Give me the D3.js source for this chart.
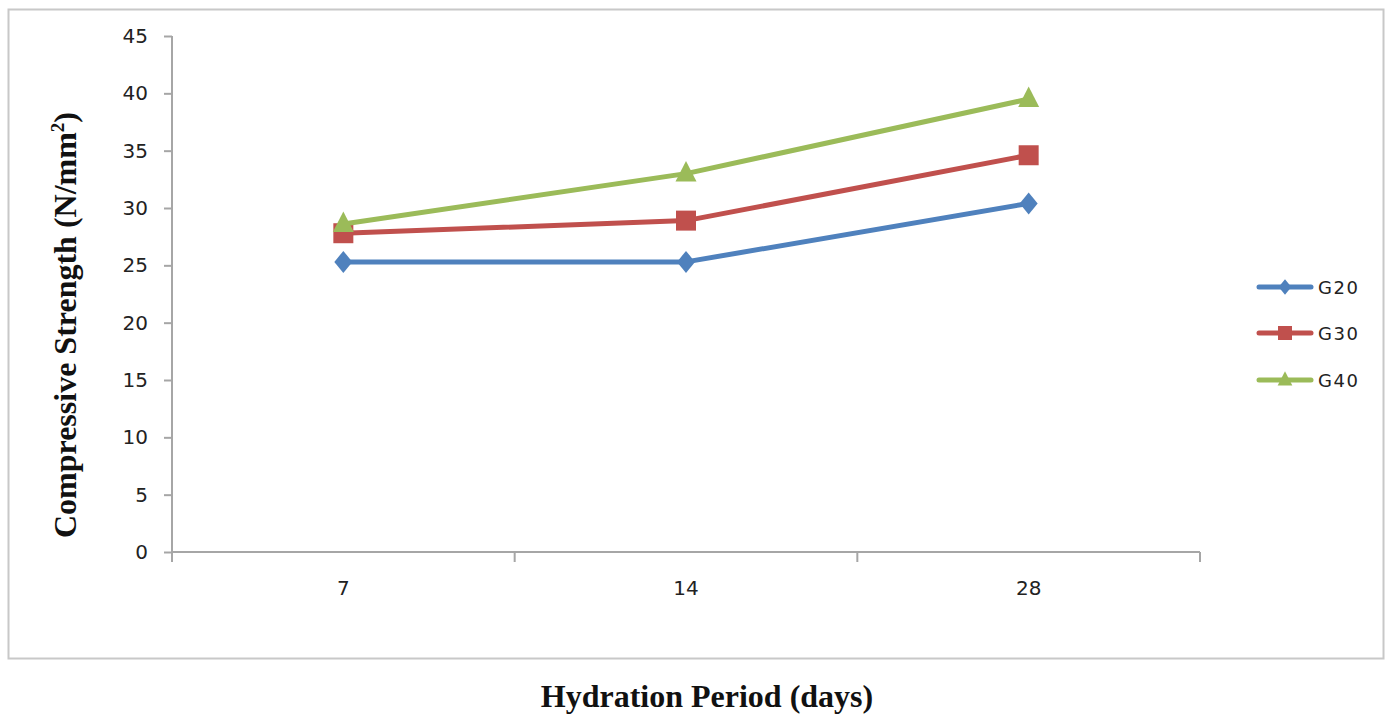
<!DOCTYPE html>
<html><head><meta charset="utf-8">
<script src="https://cdn.jsdelivr.net/npm/d3@7"></script>
<style>body{margin:0;background:#fff;} svg{display:block;}</style>
</head><body>
<svg id="c" width="1390" height="716"></svg>
<script>
const categories = ["7", "14", "28"];
const seriesNames = ["G20", "G30", "G40"];
const g20 = [25.3, 25.3, 30.4];
const g30 = [27.8, 28.9, 34.6];
const g40 = [28.6, 33.0, 39.5];
const yTicks = [0, 5, 10, 15, 20, 25, 30, 35, 40, 45];
const colors = ["#4F81BD", "#C0504D", "#9BBB59"];
const values = [g20, g30, g40];

// marker shapes (Excel-like)
function markerPath(s, k) {
  if (s === 0) { const rx = 9 * k, ry = 11 * k; return `M0,${-ry}L${rx},0L0,${ry}L${-rx},0Z`; }
  if (s === 1) { const h = 10 * k; return `M${-h},${-h}H${h}V${h}H${-h}Z`; }
  const w = 10.5 * k, t = 12.5 * k, b = 8 * k; return `M0,${-t}L${w},${b}L${-w},${b}Z`;
}

const svg = d3.select("#c");
svg.append("rect").attr("x", 8.5).attr("y", 9.5).attr("width", 1375).attr("height", 649)
  .attr("fill", "#fff").attr("stroke", "#C8C8C8").attr("stroke-width", 2);

const x = d3.scaleBand().domain(categories).range([172, 1200]);
const y = d3.scaleLinear().domain([0, 45]).range([552, 36]);
const axisColor = "#A6A6A6";

// y axis
const ya = svg.append("g").attr("transform", "translate(172,0)")
  .call(d3.axisLeft(y).tickValues(yTicks).tickSize(8).tickPadding(16));
ya.select(".domain").attr("stroke", axisColor).attr("stroke-width", 2).attr("d", "M0,36V552");
ya.selectAll(".tick line").attr("stroke", axisColor).attr("stroke-width", 2);
ya.selectAll(".tick text").attr("font-family", "DejaVu Sans").attr("font-size", 20).attr("fill", "#222");

// x axis
const xa = svg.append("g").attr("transform", "translate(0,552)")
  .call(d3.axisBottom(x).tickSize(0).tickPadding(29));
xa.select(".domain").attr("stroke", axisColor).attr("stroke-width", 2).attr("d", "M172,0H1200");
xa.selectAll(".tick text").attr("font-family", "DejaVu Sans").attr("font-size", 20).attr("fill", "#222");
const bounds = categories.map(c => x(c)).concat([x(categories[categories.length-1]) + x.bandwidth()]);
svg.append("g").selectAll("line").data(bounds).join("line")
  .attr("x1", d => d).attr("x2", d => d).attr("y1", 552).attr("y2", 562)
  .attr("stroke", axisColor).attr("stroke-width", 2);

// series
const cx = c => x(c) + x.bandwidth() / 2;
const line = d3.line().x((d, i) => cx(categories[i])).y(d => y(d));
values.forEach((vals, s) => {
  svg.append("path").datum(vals).attr("d", line).attr("fill", "none")
    .attr("stroke", colors[s]).attr("stroke-width", 5).attr("stroke-linejoin", "round");
  svg.append("g").selectAll("path").data(vals).join("path")
    .attr("transform", (d, i) => `translate(${cx(categories[i])},${y(d)})`)
    .attr("d", markerPath(s, 1))
    .attr("fill", colors[s]);
});

// legend
const legY = [287, 333, 380];
seriesNames.forEach((n, s) => {
  const g = svg.append("g").attr("transform", `translate(1259,${legY[s]})`);
  g.append("line").attr("x1", 0).attr("x2", 52).attr("y1", 0).attr("y2", 0)
    .attr("stroke", colors[s]).attr("stroke-width", 5).attr("stroke-linecap", "round");
  g.append("path").attr("transform", "translate(26,0)")
    .attr("d", markerPath(s, 0.7)).attr("fill", colors[s]);
  g.append("text").attr("x", 59).attr("y", 7).text(n)
    .attr("font-family", "DejaVu Sans").attr("font-size", 18).attr("letter-spacing", 1.5).attr("fill", "#222");
});

// axis titles
const yt = svg.append("text").attr("transform", "translate(76,325) rotate(-90)")
  .attr("text-anchor", "middle").attr("font-family", "Liberation Serif").attr("font-weight", "bold")
  .attr("font-size", 32).attr("fill", "#111");
yt.append("tspan").text("Compressive Strength (N/mm");
yt.append("tspan").text("2").attr("font-size", 19).attr("dy", -12);
yt.append("tspan").text(")").attr("dy", 12);

svg.append("text").attr("x", 707).attr("y", 707).attr("text-anchor", "middle")
  .attr("font-family", "Liberation Serif").attr("font-weight", "bold").attr("font-size", 32)
  .attr("fill", "#111").text("Hydration Period (days)");
</script>
</body></html>
